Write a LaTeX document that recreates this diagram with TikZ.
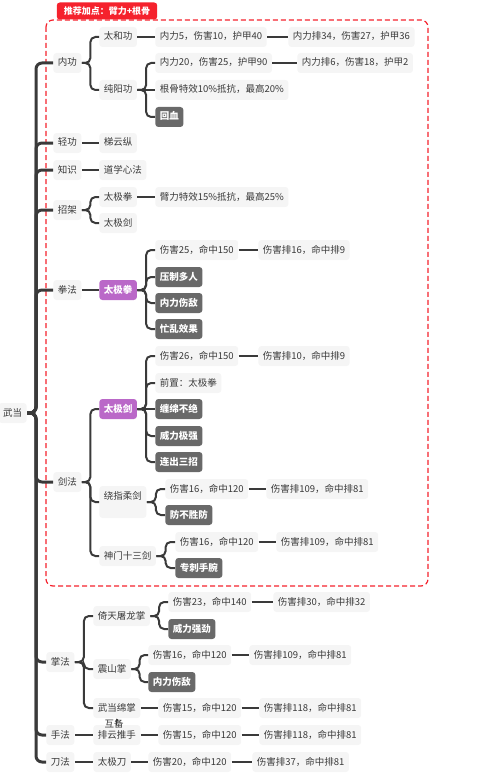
\documentclass[tikz,border=0pt]{standalone}
\usepackage{fontspec}
\setmainfont{Noto Sans CJK SC}
\usetikzlibrary{arrows.meta,calc,positioning}
\definecolor{xianse}{HTML}{3A3A3A}
\definecolor{qianhui}{HTML}{F5F5F5}
\definecolor{shenhui}{HTML}{696969}
\definecolor{zise}{HTML}{BA68C8}
\definecolor{hongse}{HTML}{F5222D}
\tikzset{
  every picture/.style={line width=0.75pt},
  jd/.style={anchor=west, fill=qianhui, rounded corners=3pt, text=xianse,
    font=\fontsize{9.5}{11}\selectfont, inner xsep=4.5pt, inner ysep=2pt,
    minimum height=20pt, text height=8pt, text depth=2pt},
  shen/.style={jd, fill=shenhui, text=white, font=\fontsize{9.5}{11}\selectfont\bfseries},
  zi/.style={jd, fill=zise, text=white, font=\fontsize{9.5}{11}\selectfont\bfseries},
  lian/.style={draw=xianse, line width=2pt, rounded corners=5pt},
  zhugan/.style={draw=xianse, line width=3pt, rounded corners=6pt},
  biaoqian/.style={fill=hongse, text=white, rounded corners=3pt,
    font=\fontsize{9}{10}\selectfont\bfseries, inner xsep=7pt, minimum height=17pt},
}

\begin{document}
\begin{tikzpicture}[x=1pt,y=-1pt]
    \useasboundingbox (0,0) rectangle (482,781);
    % 推荐加点
    \draw[hongse, line width=1.2pt, dash pattern=on 5pt off 3pt, rounded corners=7pt] (46,20) rectangle (428,586);
    \node[biaoqian] (tuijian) at (107,11) {推荐加点：臂力+根骨};
    % 根
    \node[jd, anchor=east] (wudang) at (27,413) {武当};
    \coordinate (gan) at (36,413);
    % 第一层
    \node[jd] (neigong) at (53,63) {内功};
    \node[jd] (qinggong) at (53,143) {轻功};
    \node[jd] (zhishi) at (53,170) {知识};
    \node[jd] (zhaojia) at (53,210) {招架};
    \node[jd] (quanfa) at (53,290) {拳法};
    \node[jd] (jianfa) at (53,482) {剑法};
    \node[jd] (zhangfa) at (46,662) {掌法};
    \node[jd] (shoufa) at (46,735) {手法};
    \node[jd] (daofa) at (46,762) {刀法};
    % 内功
    \node[jd] (taihe) at (99,37) {太和功};
    \node[jd] (taihe1) at (155,37) {内力5，伤害10，护甲40};
    \node[jd] (taihe2) at (288,37) {内力排34，伤害27，护甲36};
    \node[jd] (chunyang) at (99,90) {纯阳功};
    \node[jd] (cy1) at (155,63) {内力20，伤害25，护甲90};
    \node[jd] (cy2) at (297,63) {内力排6，伤害18，护甲2};
    \node[jd] (cy3) at (155,90) {根骨特效10\%抵抗，最高20\%};
    \node[shen] (cy4) at (155,117) {回血};
    % 轻功 知识 招架
    \node[jd] (tiyun) at (99,143) {梯云纵};
    \node[jd] (daoxue) at (99,170) {道学心法};
    \node[jd] (zjquan) at (99,197) {太极拳};
    \node[jd] (zjquan1) at (155,197) {臂力特效15\%抵抗，最高25\%};
    \node[jd] (zjjian) at (99,223) {太极剑};
    % 拳法
    \node[zi] (tjq) at (99,290) {太极拳};
    \node[jd] (tjq1) at (155,250) {伤害25，命中150};
    \node[jd] (tjq2) at (258,250) {伤害排16，命中排9};
    \node[shen] (tjq3) at (155,277) {压制多人};
    \node[shen] (tjq4) at (155,303) {内力伤敌};
    \node[shen] (tjq5) at (155,329) {忙乱效果};
    % 剑法
    \node[zi] (tjj) at (99,409) {太极剑};
    \node[jd] (tjj1) at (155,356) {伤害26，命中150};
    \node[jd] (tjj2) at (258,356) {伤害排10，命中排9};
    \node[jd] (tjj3) at (155,383) {前置：太极拳};
    \node[shen] (tjj4) at (155,409) {缠绵不绝};
    \node[shen] (tjj5) at (155,436) {威力极强};
    \node[shen] (tjj6) at (155,462) {连出三招};
    \node[jd, minimum height=32pt, text depth=13pt] (raozhi) at (99,502) {绕指柔剑};
    \node[jd] (rz1) at (165,489) {伤害16，命中120};
    \node[jd] (rz2) at (266,489) {伤害排109，命中排81};
    \node[shen] (rz3) at (165,515) {防不胜防};
    \node[jd] (shenmen) at (99,556) {神门十三剑};
    \node[jd] (sm1) at (175,542) {伤害16，命中120};
    \node[jd] (sm2) at (276,542) {伤害排109，命中排81};
    \node[shen] (sm3) at (175,568) {专刺手腕};
    % 掌法
    \node[jd] (yitian) at (93,616) {倚天屠龙掌};
    \node[jd] (yt1) at (168,602) {伤害23，命中140};
    \node[jd] (yt2) at (273,602) {伤害排30，命中排32};
    \node[shen] (yt3) at (168,629) {威力强劲};
    \node[jd] (zhenshan) at (93,669) {震山掌};
    \node[jd] (zs1) at (148,655) {伤害16，命中120};
    \node[jd] (zs2) at (249,655) {伤害排109，命中排81};
    \node[shen] (zs3) at (148,682) {内力伤敌};
    \node[jd] (mianzhang) at (93,708) {武当绵掌};
    \node[jd] (mz1) at (158,708) {伤害15，命中120};
    \node[jd] (mz2) at (259,708) {伤害排118，命中排81};
    % 手法 刀法
    \node[jd] (paiyun) at (93,735) {排云推手};
    \node[jd] (py1) at (158,735) {伤害15，命中120};
    \node[jd] (py2) at (259,735) {伤害排118，命中排81};
    \node[jd] (taijidao) at (93,762) {太极刀};
    \node[jd] (td1) at (148,762) {伤害20，命中120};
    \node[jd] (td2) at (252,762) {伤害排37，命中排81};
    % 主干
    \foreach \b in {neigong,qinggong,zhishi,zhaojia,quanfa,jianfa,zhangfa,shoufa,daofa}
        \draw[zhugan] (wudang.east) -- (gan) |- (\b.west);
    % 分叉
    \foreach \a/\b in {neigong/taihe,neigong/chunyang,chunyang/cy1,chunyang/cy4,
        zhaojia/zjquan,zhaojia/zjjian,tjq/tjq1,tjq/tjq3,tjq/tjq4,tjq/tjq5,
        jianfa/tjj,jianfa/raozhi,jianfa/shenmen,tjj/tjj1,tjj/tjj3,tjj/tjj5,tjj/tjj6,
        raozhi/rz1,raozhi/rz3,shenmen/sm1,shenmen/sm3,
        zhangfa/yitian,zhangfa/zhenshan,zhangfa/mianzhang,
        yitian/yt1,yitian/yt3,zhenshan/zs1,zhenshan/zs3}
        \draw[lian] (\a.east) -- ($(\a.east)!.5!(\b.west |- \a.east)$) |- (\b.west);
    % 直线
    \foreach \a/\b in {taihe/taihe1,taihe1/taihe2,cy1/cy2,chunyang/cy3,qinggong/tiyun,
        zhishi/daoxue,zjquan/zjquan1,quanfa/tjq,tjq1/tjq2,tjj1/tjj2,tjj/tjj4,
        rz1/rz2,sm1/sm2,yt1/yt2,zs1/zs2,mianzhang/mz1,mz1/mz2,
        shoufa/paiyun,paiyun/py1,py1/py2,daofa/taijidao,taijidao/td1,td1/td2}
        \draw[lian] (\a.east) -- (\a.east -| \b.west);
    % 互备
    \draw[xianse, line width=0.8pt, -{Stealth[length=3pt,width=3.5pt]}] (paiyun.north) -- (mianzhang.south);
    \node[text=xianse, font=\fontsize{9.5}{11}\selectfont, inner sep=0.3pt, text height=7pt, text depth=1.5pt] (hubei) at (114,725) {互备};
\end{tikzpicture}
\end{document}
